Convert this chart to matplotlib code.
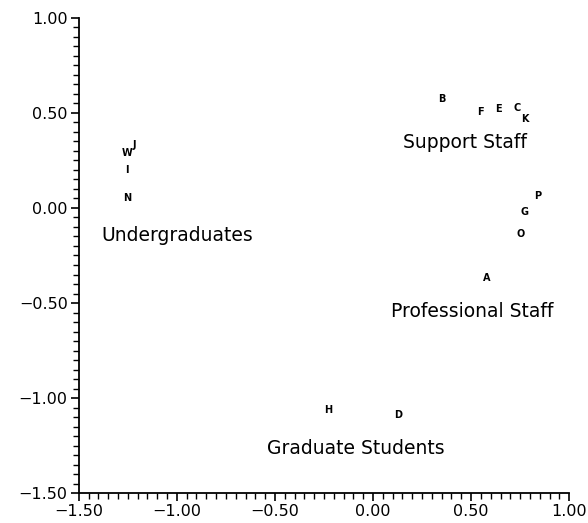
import matplotlib
matplotlib.use("Agg")
import matplotlib.pyplot as plt
from matplotlib.ticker import MultipleLocator, FuncFormatter

# point letters and coordinates
letters = ["A", "B", "C", "D", "E", "F", "G", "H", "I", "J", "K", "N", "O", "P", "W"]
x_vals = [0.58, 0.35, 0.735, 0.13, 0.64, 0.55, 0.77, -0.23, -1.255, -1.215, 0.775, -1.255, 0.75, 0.84, -1.255]
y_vals = [-0.37, 0.575, 0.525, -1.09, 0.52, 0.505, -0.02, -1.065, 0.20, 0.33, 0.47, 0.05, -0.135, 0.065, 0.29]

# group names and where they sit
groups = ["Undergraduates", "Support Staff", "Professional Staff", "Graduate Students"]
group_x = [-1.0, 0.47, 0.505, -0.09]
group_y = [-0.145, 0.345, -0.545, -1.265]


def fmt(v, pos):
    s = "%.2f" % abs(v)
    return ("\u2212" + s) if v < -1e-9 else s


fig = plt.figure(figsize=(5.88, 5.23), dpi=100)
ax = fig.add_axes([0.134, 0.057, 0.834, 0.909])

for lab, x, y in zip(letters, x_vals, y_vals):
    ax.text(x, y, lab, fontsize=7, fontweight="bold", ha="center", va="center")

for g, x, y in zip(groups, group_x, group_y):
    ax.text(x, y, g, fontsize=13.5, ha="center", va="center")

ax.set_xlim(-1.5, 1.0)
ax.set_ylim(-1.5, 1.0)
ax.xaxis.set_major_locator(MultipleLocator(0.5))
ax.yaxis.set_major_locator(MultipleLocator(0.5))
ax.xaxis.set_minor_locator(MultipleLocator(0.05))
ax.yaxis.set_minor_locator(MultipleLocator(0.05))
ax.xaxis.set_major_formatter(FuncFormatter(fmt))
ax.yaxis.set_major_formatter(FuncFormatter(fmt))
ax.tick_params(which="major", direction="out", length=6, width=1.2, labelsize=11.5, pad=2)
ax.tick_params(which="minor", direction="out", length=4, width=1.0)
ax.spines["top"].set_visible(False)
ax.spines["right"].set_visible(False)
ax.spines["left"].set_linewidth(1.3)
ax.spines["bottom"].set_linewidth(1.3)

fig.savefig("out.png", dpi=100)
